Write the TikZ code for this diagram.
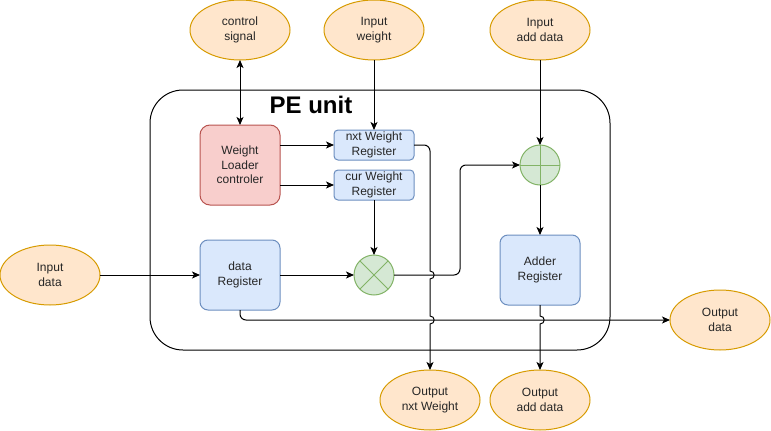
\documentclass[tikz,border=0pt]{standalone}
\usepackage{fontspec}
\setmainfont{Liberation Sans}
\usetikzlibrary{shapes.geometric,arrows.meta,positioning}
\definecolor{iofill}{HTML}{FFE6CC}
\definecolor{ioline}{HTML}{D79B00}
\definecolor{regfill}{HTML}{DAE8FC}
\definecolor{regline}{HTML}{6C8EBF}
\definecolor{ctrlfill}{HTML}{F8CECC}
\definecolor{ctrlline}{HTML}{B85450}
\definecolor{opfill}{HTML}{D5E8D4}
\definecolor{opline}{HTML}{82B366}
\newcommand{\linehop}[2]{-- (#1,#2-4) .. controls (#1+5.5,#2-4) and (#1+5.5,#2+4) .. (#1,#2+4)}
\begin{document}
\begin{tikzpicture}[x=1pt,y=-1pt,line width=1pt,
    font=\fontsize{12}{14.4}\selectfont,
    every node/.style={outer sep=0pt,inner sep=0pt,text=black!85,align=center},
    port/.style={ellipse,draw=ioline,fill=iofill,minimum width=100pt,minimum height=60pt},
    reg/.style={draw=regline,fill=regfill,rounded corners=8pt,minimum width=80pt,minimum height=70pt},
    smallreg/.style={reg,rounded corners=4pt,minimum height=30pt},
    ctrl/.style={reg,draw=ctrlline,fill=ctrlfill,rounded corners=10pt,minimum height=80pt},
    op/.style={circle,draw=opline,fill=opfill,minimum size=40pt},
    conn/.style={-{Stealth[length=8pt,width=7pt,inset=2pt]}}]

    \useasboundingbox (0,0) rectangle (771,431);

    \node[draw,rounded corners=33pt,minimum width=460pt,minimum height=260pt] (pe) at (380,220) {};
    \node[font=\fontsize{24}{28}\selectfont\bfseries,text=black] (title) at (311,105) {PE unit};

    % ports
    \node[port] (ctl) at (240,30) {control\\signal};
    \node[port] (inw) at (374,30) {Input\\weight};
    \node[port] (inad) at (540,30) {Input\\add data};
    \node[port] (ind) at (50,275) {Input\\data};
    \node[port] (outd) at (720,320) {Output\\data};
    \node[port] (onw) at (430,400) {Output\\nxt Weight};
    \node[port] (oad) at (540,400) {Output\\add data};

    % inside the unit
    \node[ctrl] (wl) at (240,165) {Weight\\Loader\\controler};
    \node[smallreg] (nxtw) at (374,145) {nxt Weight\\Register};
    \node[smallreg,below=10pt of nxtw] (curw) {cur Weight\\Register};
    \node[reg] (datareg) at (240,275) {data\\Register};
    \node[op] (mul) at (374,275) {};
    \draw[opline] (mul.north west) -- (mul.south east) (mul.north east) -- (mul.south west);
    \node[op] (add) at (540,165) {};
    \draw[opline] (add.north) -- (add.south) (add.west) -- (add.east);
    \node[reg] (addreg) at (540,270) {Adder\\Register};

    \draw[{Stealth[length=8pt,width=7pt,inset=2pt]}-{Stealth[length=8pt,width=7pt,inset=2pt]}] (ctl) -- (wl);
    \draw[conn] (inw) -- (nxtw);
    \draw[conn] (wl.east |- nxtw.west) -- (nxtw.west);
    \draw[conn] (wl.east |- curw.west) -- (curw.west);
    \draw[conn] (curw) -- (mul);
    \draw[conn] (ind) -- (datareg);
    \draw[conn] (datareg) -- (mul);
    \draw[conn,rounded corners=6pt] (mul.east) -- ++(66,0) |- (add.west);
    \draw[conn] (inad) -- (add);
    \draw[conn] (add) -- (addreg);
    \draw[conn,rounded corners=6pt] (datareg.south) |- (outd.west);
    \draw[conn] (nxtw.east) [rounded corners=6pt] -| (430,200) [sharp corners]
      \linehop{430}{275} \linehop{430}{320} -- (onw.north);
    \draw[conn] (addreg.south) \linehop{540}{320} -- (oad.north);
\end{tikzpicture}
\end{document}
